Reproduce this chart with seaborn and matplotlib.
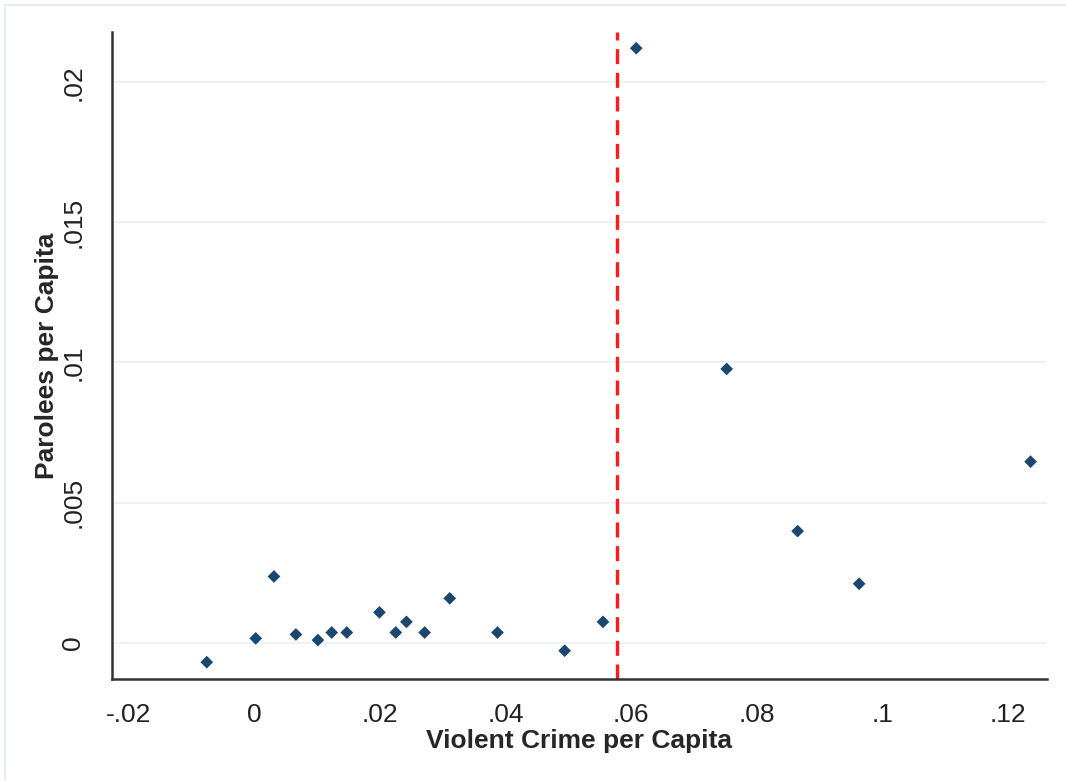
import matplotlib
matplotlib.use('Agg')
import matplotlib.pyplot as plt
import seaborn as sns
import pandas as pd
from matplotlib.patches import Rectangle

# Binned scatter: violent crime vs parolees, both per capita
crime_per_capita = [-0.0076, 0.0002, 0.0031, 0.0066, 0.0101, 0.0123, 0.0147,
                    0.0199, 0.0225, 0.0242, 0.0271, 0.0311, 0.0387, 0.0494,
                    0.0555, 0.0608, 0.0752, 0.0865, 0.0963, 0.1236]
parolees_per_capita = [-0.00070, 0.00015, 0.00236, 0.00029, 0.00009, 0.00036,
                       0.00036, 0.00108, 0.00036, 0.00074, 0.00036, 0.00158,
                       0.00036, -0.00029, 0.00074, 0.02122, 0.00977, 0.00398,
                       0.00210, 0.00646]
threshold = 0.0578

x_ticks = [-0.02, 0, 0.02, 0.04, 0.06, 0.08, 0.1, 0.12]
x_tick_labels = ['-.02', '0', '.02', '.04', '.06', '.08', '.1', '.12']
y_ticks = [0, 0.005, 0.01, 0.015, 0.02]
y_tick_labels = ['0', '.005', '.01', '.015', '.02']

df = pd.DataFrame({'crime': crime_per_capita, 'parolees': parolees_per_capita})

sns.set_style('white')
plt.rcParams['font.family'] = ['Liberation Sans', 'DejaVu Sans']

fig = plt.figure(figsize=(10.66, 7.81), dpi=100)
ax = fig.add_axes([111.7 / 1066, 1 - 679 / 781, (1046.7 - 111.7) / 1066, (679 - 31.7) / 781])

# faint outer graph-region border
fig.patches.append(Rectangle((5 / 1066, -0.01), 1.02, 1 - 5 / 781 + 0.01,
                             transform=fig.transFigure, fill=False,
                             edgecolor='#e6eef0', linewidth=1.5))

for yt in y_ticks:
    ax.axhline(yt, color='#eaf2f3', linewidth=1.3, zorder=0)

sns.scatterplot(data=df, x='crime', y='parolees', marker='D', s=42,
                color='#1a476f', edgecolor='none', ax=ax, zorder=3)

ax.axvline(threshold, color='#ff1a1a', linewidth=2.4, dashes=(4.5, 2.6), zorder=2)

ax.set_xlim(-0.02274, 0.12617)
ax.set_ylim(-0.0013, 0.02181)

ax.set_xticks(x_ticks)
ax.set_xticklabels(x_tick_labels)
ax.set_yticks(y_ticks)
ax.set_yticklabels(y_tick_labels, rotation=90, va='center')

ax.tick_params(axis='both', direction='out', length=9, width=1.6, color='#333333',
               labelsize=19, labelcolor='#222222')
ax.tick_params(axis='x', pad=8)
ax.tick_params(axis='y', pad=10)

for side in ['top', 'right']:
    ax.spines[side].set_visible(False)
for side in ['left', 'bottom']:
    ax.spines[side].set_color('#333333')
    ax.spines[side].set_linewidth(1.8)

ax.set_xlabel('Violent Crime per Capita', fontsize=19, fontweight='bold', labelpad=2)
ax.set_ylabel('Parolees per Capita', fontsize=19, fontweight='bold', labelpad=2)

fig.savefig('out.png', dpi=100)
